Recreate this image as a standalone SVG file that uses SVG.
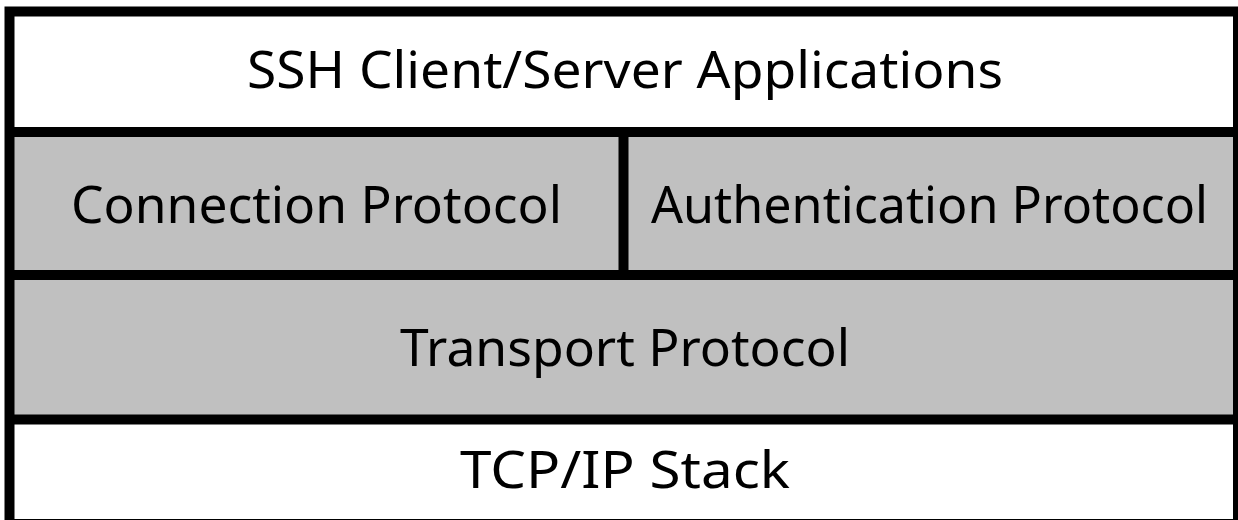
<svg xmlns="http://www.w3.org/2000/svg" width="1238" height="520" viewBox="0 0 1238 520">
<style>
.w{fill:#ffffff}
.g{fill:#c0c0c0}
.ln{stroke:#000;stroke-width:10;fill:none}
text{font-family:"Noto Sans","DejaVu Sans",sans-serif;font-size:51px;fill:#000;text-anchor:middle}
</style>
<rect x="0" y="0" width="1238" height="520" fill="#fff"/>
<g id="apps"><rect class="w" x="9.5" y="11.5" width="1228" height="120.5"/><text x="625" y="88" textLength="756" lengthAdjust="spacingAndGlyphs">SSH Client/Server Applications</text></g>
<g id="conn"><rect class="g" x="9.5" y="132" width="614" height="143"/><text x="316.5" y="223" textLength="491" lengthAdjust="spacingAndGlyphs">Connection Protocol</text></g>
<g id="auth"><rect class="g" x="623.5" y="132" width="614" height="143"/><text x="929.5" y="223" textLength="557" lengthAdjust="spacingAndGlyphs">Authentication Protocol</text></g>
<g id="transport"><rect class="g" x="9.5" y="275" width="1228" height="144.5"/><text x="625" y="366" textLength="450" lengthAdjust="spacingAndGlyphs">Transport Protocol</text></g>
<g id="tcp"><rect class="w" x="9.5" y="419.5" width="1228" height="104"/><text x="625" y="488" textLength="330" lengthAdjust="spacingAndGlyphs">TCP/IP Stack</text></g>
<g id="lines">
<rect class="ln" x="9.5" y="11.5" width="1228.5" height="512.5"/>
<line class="ln" x1="9.5" y1="132" x2="1238" y2="132"/>
<line class="ln" x1="9.5" y1="275" x2="1238" y2="275"/>
<line class="ln" x1="9.5" y1="419.5" x2="1238" y2="419.5"/>
<line class="ln" x1="623.5" y1="132" x2="623.5" y2="275"/>
</g>
</svg>
